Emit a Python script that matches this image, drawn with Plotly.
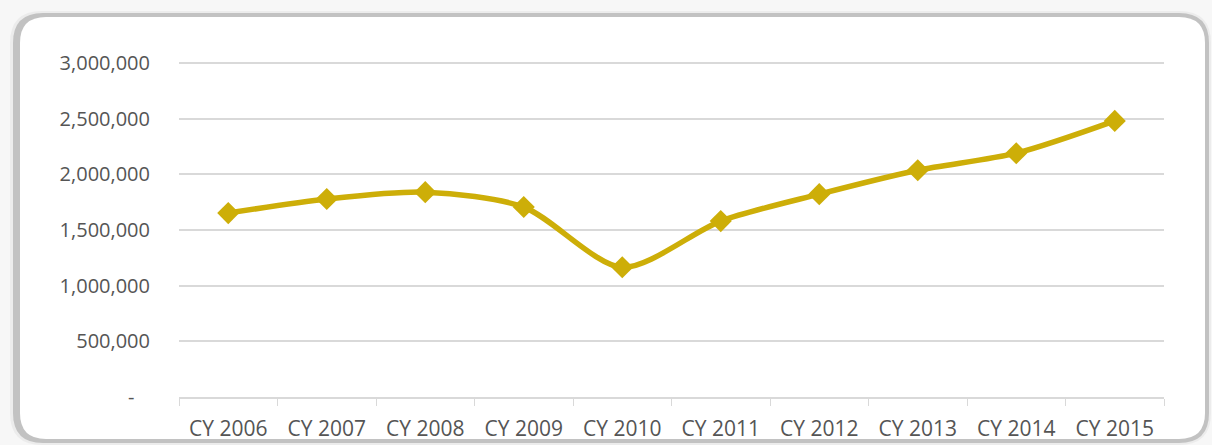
import plotly.graph_objects as go

categories = ["CY 2006", "CY 2007", "CY 2008", "CY 2009", "CY 2010",
              "CY 2011", "CY 2012", "CY 2013", "CY 2014", "CY 2015"]
values = [1652000, 1778000, 1840000, 1706000, 1165000,
          1580000, 1822000, 2037000, 2190000, 2480000]
tick_vals = [0, 500000, 1000000, 1500000, 2000000, 2500000, 3000000]
tick_text = ["-\u00a0\u00a0\u00a0", "500,000", "1,000,000", "1,500,000", "2,000,000", "2,500,000", "3,000,000"]

W, H = 1212, 445
L, R, T, B = 179, 1164, 61, 397  # plot area in pixels
YMAX = 3000000 * (B - T) / (B - 63)


def px(x):
    return (x - L) / (R - L)


def py(y):
    return (B - y) / (B - T)


def rounded(x0, y0, x1, y1, r):
    return (f"M {px(x0 + r)},{py(y0)} L {px(x1 - r)},{py(y0)} "
            f"Q {px(x1)},{py(y0)} {px(x1)},{py(y0 + r)} "
            f"L {px(x1)},{py(y1 - r)} Q {px(x1)},{py(y1)} {px(x1 - r)},{py(y1)} "
            f"L {px(x0 + r)},{py(y1)} Q {px(x0)},{py(y1)} {px(x0)},{py(y1 - r)} "
            f"L {px(x0)},{py(y0 + r)} Q {px(x0)},{py(y0)} {px(x0 + r)},{py(y0)} Z")


gold = "#CDAE08"

fig = go.Figure()
fig.add_trace(go.Scatter(
    x=categories, y=values, mode="lines+markers",
    line=dict(color=gold, width=5.5, shape="spline", smoothing=0.8),
    marker=dict(symbol="diamond", size=17, color=gold),
    hoverinfo="skip", showlegend=False,
))

shapes = [
    dict(type="path", xref="paper", yref="paper", layer="below",
         path=rounded(10, 11, 1211, 445, 32), fillcolor="#ececec", line=dict(width=0)),
    dict(type="path", xref="paper", yref="paper", layer="below",
         path=rounded(13, 13, 1209, 443, 30), fillcolor="#c2c2c2", line=dict(width=0)),
    dict(type="path", xref="paper", yref="paper", layer="below",
         path=rounded(20, 17, 1205, 439, 26), fillcolor="#ffffff", line=dict(width=0)),
]

fig.update_layout(
    width=W, height=H,
    margin=dict(l=L, r=W - R, t=T, b=H - B, pad=0),
    paper_bgcolor="#f7f7f7", plot_bgcolor="rgba(0,0,0,0)",
    shapes=shapes,
    font=dict(family="Open Sans, Noto Sans, sans-serif", size=20, color="#595959"),
    xaxis=dict(
        type="category", range=[-0.5, 9.5], showgrid=False, automargin=False,
        showline=True, linecolor="#d9d9d9", linewidth=1.5,
        ticks="outside", tickson="boundaries", ticklen=7, tickcolor="#d9d9d9",
        ticklabelstandoff=12,
        tickfont=dict(size=21, color="#555555"), fixedrange=True,
    ),
    yaxis=dict(
        range=[0, YMAX], tickvals=tick_vals, ticktext=tick_text, automargin=False,
        showgrid=True, gridcolor="#d9d9d9", gridwidth=1.5, zeroline=False,
        showline=False, ticks="", ticklabelstandoff=28,
        tickfont=dict(size=20, color="#555555"), fixedrange=True,
    ),
)

fig.write_html("out.html", config={"displayModeBar": False},
               post_script="document.body.style.margin='0';")
